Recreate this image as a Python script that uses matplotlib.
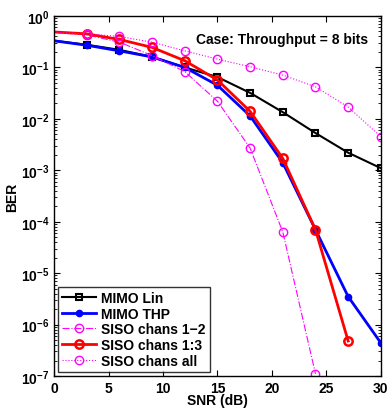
import numpy as np
import matplotlib

matplotlib.use("Agg")
import matplotlib.pyplot as plt  # noqa: E402
from matplotlib.ticker import LogLocator, NullFormatter  # noqa: E402

plt.rcParams["font.family"] = ["Liberation Sans", "DejaVu Sans"]
plt.rcParams["font.weight"] = "bold"
plt.rcParams["mathtext.default"] = "bf"

snr = [0, 3, 6, 9, 12, 15, 18, 21, 24, 27, 30]
mimo_lin = [0.33, 0.276, 0.22, 0.16, 0.10, 0.065, 0.032, 0.0135, 0.0053, 0.0022, 0.0011]
mimo_thp = [0.33, 0.27, 0.21, 0.16, 0.10, 0.045, 0.0114, 0.0014, 7e-5, 3.5e-6, 4.4e-7]
snr_12 = [0, 3, 6, 9, 12, 15, 18, 21, 24]
siso_12 = [0.48, 0.43, 0.31, 0.17, 0.083, 0.022, 0.0027, 6.3e-5, 1.1e-7]
snr_13 = [0, 3, 6, 9, 12, 15, 18, 21, 24, 27]
siso_13 = [0.49, 0.45, 0.35, 0.245, 0.135, 0.057, 0.014, 0.0017, 7e-5, 4.8e-7]
siso_all = [0.48, 0.45, 0.40, 0.31, 0.21, 0.145, 0.103, 0.071, 0.042, 0.017, 0.0045]

fig = plt.figure(figsize=(3.89, 4.10), dpi=100)
ax = fig.add_axes([0.139, 0.0805, 0.84, 0.878])

mk = slice(1, None)
ax.semilogy(snr, mimo_lin, "-s", color="black", lw=1.5, ms=5, mfc="none",
            mew=1.5, markevery=mk, label="MIMO Lin")
ax.semilogy(snr, mimo_thp, "-o", color="blue", lw=2, ms=4.5, mfc="blue",
            markevery=mk, label="MIMO THP")
ax.semilogy(snr_12, siso_12, "-.o", color="#ff00ff", lw=0.8, ms=6, mfc="none",
            markevery=mk, label="SISO chans 1\u22122")
ax.semilogy(snr_13, siso_13, "-o", color="red", lw=2, ms=6, mfc="none",
            mew=1.8, markevery=mk, label="SISO chans 1:3")
ax.semilogy(snr, siso_all, ":o", color="#ff00ff", lw=0.8, ms=6, mfc="none",
            markevery=mk, label="SISO chans all")

ax.set_xlim(0, 30)
ax.set_ylim(1e-7, 1)
ax.set_xticks([0, 5, 10, 15, 20, 25, 30])
ax.yaxis.set_major_locator(LogLocator(base=10, numticks=10))
ax.yaxis.set_minor_locator(LogLocator(base=10, subs=np.arange(2, 10), numticks=10))
ax.yaxis.set_minor_formatter(NullFormatter())
ax.tick_params(which="both", direction="in", top=True, right=True, labelsize=10)
ax.tick_params(which="major", length=4)
ax.tick_params(which="minor", length=2)
for s in ax.spines.values():
    s.set_linewidth(1.0)

ax.set_xlabel("SNR (dB)", fontsize=10, fontweight="bold", labelpad=-1)
ax.set_ylabel("BER", fontsize=10, fontweight="bold", labelpad=1)
ax.text(13.0, 0.36, "Case: Throughput = 8 bits", fontsize=10, fontweight="bold",
        va="center")

leg = ax.legend(loc="lower left", fontsize=10, frameon=True, fancybox=False,
                edgecolor="black", borderpad=0.3, labelspacing=0.12,
                handlelength=2.4, handletextpad=0.4, borderaxespad=0.3)
leg.get_frame().set_linewidth(1.0)

fig.savefig("out.png", dpi=100)
